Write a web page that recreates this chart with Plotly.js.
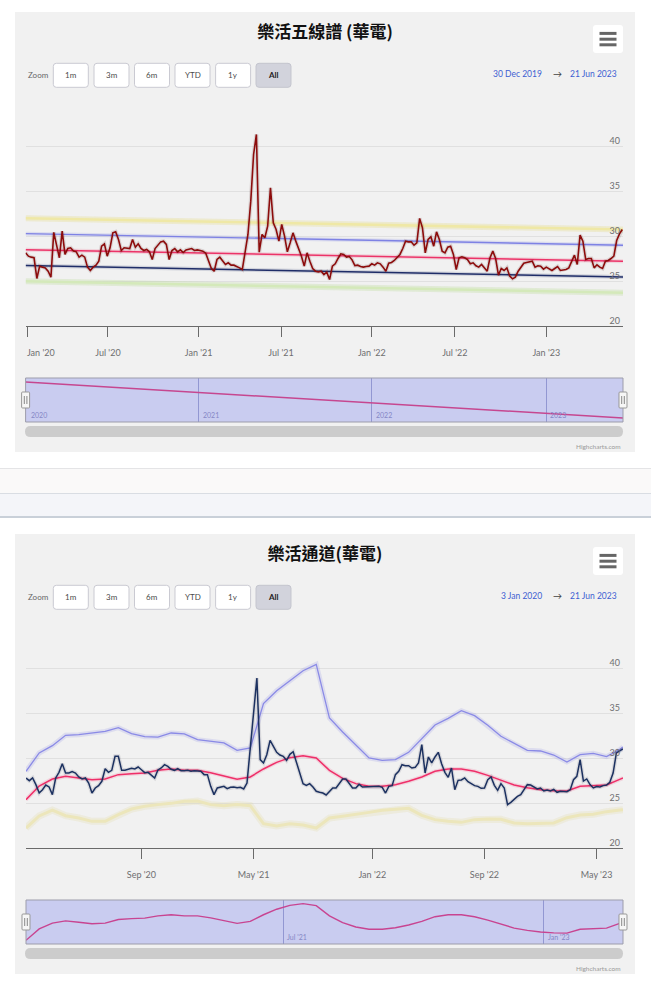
<!DOCTYPE html>
<html>
<head>
<meta charset="utf-8">
<script src="https://cdn.plot.ly/plotly-3.0.1.min.js"></script>
<style>
  html, body { margin: 0; padding: 0; background: #ffffff; }
  body { width: 651px; height: 993px; position: relative; overflow: hidden; }
  .panel { position: absolute; left: 15px; width: 620px; height: 440px; }
  #chart1 { top: 12px; }
  #chart2 { top: 534px; }
  .bar1 { position: absolute; left: 0; top: 468px; width: 651px; height: 24px; background: #faf9f9; border-top: 1px solid #e4e4e6; }
  .bar2 { position: absolute; left: 0; top: 493px; width: 651px; height: 22px; background: #f4f5f9; border-top: 1px solid #d9dde3; border-bottom: 2px solid #c9d0d9; }
</style>
</head>
<body>
<div id="chart1" class="panel"></div>
<div class="bar1"></div>
<div class="bar2"></div>
<div id="chart2" class="panel"></div>
<script>
// ================= DATA =================
// Shared UI labels
const rangeButtons = ['1m', '3m', '6m', 'YTD', '1y', 'All'];
const selectedButton = 'All';
const yTickVals = [20, 25, 30, 35, 40, 45];
const yTickText = ['20', '25', '30', '35', '40', ''];

// ---- Chart 1: 樂活五線譜 (華電) — daily closes on an ordinal (trading-day) axis ----
const title1 = '樂活五線譜 (華電)';
const dateFrom1 = '30 Dec 2019';
const dateTo1 = '21 Jun 2023';
const dayStep1 = 4;          // price sampled every 4 trading days
const lastDay1 = 849;        // trading-day index of 21 Jun 2023
const price1 = [
  28.13, 27.76, 27.65, 27.58, 25.28, 26.65, 26.54, 26.46, 26.09, 25.43,
  30.40, 29.06, 27.58, 30.54, 27.95, 28.61, 28.69, 28.32, 28.24, 27.65,
  27.87, 27.65, 26.54, 26.17, 26.54, 26.76, 27.20, 28.87, 29.13, 27.76,
  28.69, 30.35, 30.46, 29.61, 28.39, 28.69, 28.61, 28.61, 29.61, 28.76,
  29.13, 28.61, 28.39, 28.50, 28.24, 27.39, 28.61, 28.98, 29.35, 29.43,
  29.06, 27.39, 28.39, 28.61, 28.24, 28.46, 28.17, 28.46, 28.54, 28.61,
  28.39, 28.46, 28.39, 28.32, 28.09, 27.28, 26.39, 26.09, 27.39, 27.65,
  27.28,
  26.83, 27.02, 26.76, 26.76, 26.65, 26.46, 26.28, 28.13, 30.17, 33.87,
  39.06, 41.28, 28.20, 30.17, 29.80, 31.09, 35.35, 31.46, 30.72, 29.43,
  31.28, 29.98, 28.24, 29.24, 30.35, 29.43, 28.69, 27.76, 26.65, 28.13,
  27.20, 26.39, 26.09, 26.02, 26.09, 25.72, 25.98, 25.17, 26.65, 26.91,
  27.50, 28.02, 27.95, 27.65, 27.72, 27.35, 26.72, 26.76, 26.61, 26.54,
  26.61, 26.65, 26.91, 26.76, 27.02, 26.91, 26.54, 26.09, 26.98, 27.06,
  27.28, 27.58, 27.95, 28.61, 29.43, 29.35, 29.35, 28.98, 29.24, 31.95,
  30.91, 28.13,
  29.61, 29.91, 28.87, 30.46, 29.61, 28.32, 28.13, 28.76, 28.87, 27.95,
  26.28, 27.58, 27.69, 27.58, 27.39, 26.91, 27.02, 26.69, 26.54, 26.83,
  26.46, 26.09, 27.58, 28.32, 27.50, 25.65, 26.39, 26.17, 26.46, 25.54,
  25.24, 25.43, 26.09, 26.54, 26.98, 27.06, 27.13, 27.20, 26.54, 26.69,
  26.65, 26.32, 26.54, 26.32, 26.17, 26.39, 26.61, 26.17, 26.24, 26.28,
  26.46, 27.13, 27.87, 26.83, 30.09, 29.43, 27.39, 27.50, 27.50, 26.46,
  26.80, 26.54, 26.39, 27.20, 27.28, 27.50, 27.76, 29.50, 30.24, 30.72
];
// Five-line channel: values at first and last trading day
const trendDays1 = [0, 849];
const plus2sd1  = [31.98, 30.72];
const plus1sd1  = [30.26, 28.98];
const trend1    = [28.48, 27.20];
const minus1sd1 = [26.72, 25.44];
const minus2sd1 = [24.96, 23.70];
const tickDays1 = [2, 117, 246, 363, 492, 610, 740];
const tickText1 = ["Jan '20", "Jul '20", "Jan '21", "Jul '21", "Jan '22", "Jul '22", "Jan '23"];
const navDays1 = [2, 246, 492, 740];
const navText1 = ['2020', '2021', '2022', '2023'];

// ---- Chart 2: 樂活通道(華電) — weekly on an ordinal (week) axis ----
const title2 = '樂活通道(華電)';
const dateFrom2 = '3 Jan 2020';
const dateTo2 = '21 Jun 2023';
const lastWeek2 = 181;
const price2 = [
  27.78, 27.48, 27.78, 27.04, 26.11, 26.48, 27.00, 26.78, 25.93, 27.78,
  28.41, 29.37, 28.33, 28.33, 28.48, 28.33, 27.89, 27.67, 27.78, 27.22,
  26.11, 26.67, 26.93, 27.41, 28.81, 28.41, 28.63, 30.19, 30.19, 28.63,
  28.63, 28.70, 28.85, 28.78, 29.00, 28.70, 28.37, 28.41, 28.04, 27.78,
  28.67, 28.89, 29.26, 29.07, 28.74, 28.63, 28.81, 28.59, 28.59, 28.63,
  28.52, 28.59, 28.56, 28.52, 28.15, 28.15, 26.85, 25.93, 26.67, 26.74,
  26.85, 26.59, 26.74, 26.78, 26.70, 26.74, 26.56, 27.22, 30.93, 35.00,
  38.89, 29.82, 29.45, 30.37, 31.96, 31.30, 30.63, 30.33, 30.19, 29.74,
  30.41, 30.70, 29.45, 28.41, 27.15, 26.96, 27.15, 26.78, 26.30, 26.19,
  26.11, 25.89, 26.30, 26.67, 26.67, 27.11, 27.67, 27.67, 27.15, 26.67,
  26.67, 27.07, 26.78, 26.78, 26.85, 26.78, 26.78, 26.85, 26.74, 26.11,
  26.85, 26.93, 28.15, 28.52, 29.26, 29.15, 29.15, 28.89, 28.96, 29.45,
  31.48, 28.33, 30.11, 29.45, 30.11, 30.63, 29.37, 28.41, 27.85, 28.89,
  26.48, 27.52, 27.56, 27.78, 27.37, 27.15, 26.93, 26.85, 26.63, 26.67,
  27.59, 27.89, 26.96, 26.41, 27.15, 26.67, 24.82, 25.07, 25.37, 25.74,
  25.93, 26.48, 27.04, 27.00, 26.78, 26.56, 26.67, 26.33, 26.44, 26.33,
  26.52, 26.19, 26.30, 26.26, 26.26, 26.48, 27.59, 27.96, 29.81, 27.44,
  27.67, 27.04, 26.67, 26.82, 26.78, 26.93, 27.00, 27.30, 28.33, 30.56,
  30.78, 31.00
];
const bandWeeks2 = [0, 4, 8, 12, 16, 20, 24, 28, 32, 36, 40, 44, 48, 52, 56, 60, 64, 68, 72, 76,
  80, 84, 88, 92, 96, 100, 104, 108, 112, 116, 120, 124, 128, 132, 136, 140, 144, 148, 152, 156,
  160, 164, 168, 172, 176, 180, 181];
const upper2 = [28.52, 30.56, 31.37, 32.52, 32.59, 32.78, 32.96, 33.37, 32.70, 32.37,
  32.33, 32.78, 32.67, 32.04, 31.85, 31.67, 30.85, 31.11, 36.04, 37.48,
  38.59, 39.70, 40.40, 34.44, 32.89, 31.44, 30.00, 29.74, 29.82, 30.63,
  32.15, 33.67, 34.41, 35.26, 34.70, 33.63, 32.41, 31.59, 30.85, 30.78,
  30.33, 29.56, 30.37, 30.52, 30.15, 30.93, 31.22];
const ma2 = [25.37, 26.89, 27.67, 27.96, 27.78, 27.59, 27.67, 28.15, 28.26, 28.33,
  28.63, 28.78, 28.63, 28.63, 28.37, 28.00, 27.63, 27.89, 28.78, 29.52,
  30.04, 30.26, 30.00, 28.63, 27.74, 27.15, 26.85, 26.85, 27.04, 27.41,
  27.89, 28.52, 28.78, 28.78, 28.52, 28.07, 27.56, 27.00, 26.70, 26.48,
  26.37, 26.33, 26.85, 26.89, 27.00, 27.63, 27.78];
const lower2 = [22.22, 23.56, 24.22, 23.59, 23.33, 22.96, 22.96, 23.70, 24.33, 24.63,
  24.82, 24.96, 25.19, 25.22, 24.82, 24.70, 24.82, 24.70, 22.70, 22.44,
  22.70, 22.56, 22.22, 23.33, 23.52, 23.70, 23.96, 24.19, 24.33, 24.41,
  23.63, 23.15, 22.96, 22.85, 23.15, 23.22, 23.19, 22.78, 22.70, 22.74,
  22.78, 23.37, 23.67, 23.74, 24.04, 24.22, 24.26];
const tickWeeks2 = [35, 69, 105, 139, 173];
const tickText2 = ["Sep '20", "May '21", "Jan '22", "Sep '22", "May '23"];
const navWeeks2 = [78, 157];
const navText2 = ["Jul '21", "Jan '23"];

// ================= RENDERING =================
const W = 620, H = 440;
const FONT = 'Lato, "Open Sans", sans-serif';
const CJK = '"Noto Sans CJK TC", "Noto Sans CJK SC", sans-serif';
const PX = x => x / W;
const PY = y => 1 - y / H;

function rrPath(x0, y0, x1, y1, r) {
  const p = (x, y) => PX(x).toFixed(5) + ',' + PY(y).toFixed(5);
  return 'M' + p(x0 + r, y0) + 'L' + p(x1 - r, y0) + 'Q' + p(x1, y0) + ' ' + p(x1, y0 + r) +
    'L' + p(x1, y1 - r) + 'Q' + p(x1, y1) + ' ' + p(x1 - r, y1) +
    'L' + p(x0 + r, y1) + 'Q' + p(x0, y1) + ' ' + p(x0, y1 - r) +
    'L' + p(x0, y0 + r) + 'Q' + p(x0, y0) + ' ' + p(x0 + r, y0) + 'Z';
}
function padRange(vals, f) {
  const mn = Math.min(...vals), mx = Math.max(...vals), p = (mx - mn) * f;
  return [mn - p, mx + p];
}
function line(x, y, color, width, xa, ya) {
  return { type: 'scatter', mode: 'lines', x: x, y: y, xaxis: xa || 'x', yaxis: ya || 'y',
    line: { color: color, width: width }, hoverinfo: 'skip', showlegend: false };
}

function buildLayout(o) {
  const plotL = o.plotL, plotR = 608;
  const dom = [PX(plotL), PX(plotR)];
  const shapes = [], ann = [];
  // range selector buttons
  const bx = [38.3, 79, 119.5, 160, 200.6, 241];
  rangeButtons.forEach((lbl, i) => {
    const sel = lbl === selectedButton;
    shapes.push({ type: 'path', xref: 'paper', yref: 'paper', layer: 'above',
      path: rrPath(bx[i], 51.3, bx[i] + 35, 75.3, 3),
      fillcolor: sel ? '#d2d3dc' : '#ffffff', line: { color: sel ? '#c4c5ce' : '#cacad2', width: 1 } });
    ann.push({ xref: 'paper', yref: 'paper', x: PX(bx[i] + 17.5), y: PY(63.3), showarrow: false,
      xanchor: 'center', yanchor: 'middle', text: sel ? '<b>' + lbl + '</b>' : lbl,
      font: { family: FONT, size: 8, color: sel ? '#222222' : '#4a4a4a' } });
  });
  ann.push({ xref: 'paper', yref: 'paper', x: PX(11), y: PY(62.5), showarrow: false, xanchor: 'left', yanchor: 'middle',
    text: 'Zoom', font: { family: FONT, size: 8, color: '#666666' } });
  // date range
  ann.push({ xref: 'paper', yref: 'paper', x: PX(529), y: PY(62), showarrow: false, xanchor: 'right', yanchor: 'middle',
    text: o.dateFrom, font: { family: FONT, size: 8.5, color: '#3d5fd1' } });
  ann.push({ xref: 'paper', yref: 'paper', x: PX(542.5), y: PY(61.5), showarrow: false, xanchor: 'center', yanchor: 'middle',
    text: '→', font: { family: FONT, size: 9, color: '#444444' } });
  ann.push({ xref: 'paper', yref: 'paper', x: PX(604), y: PY(62), showarrow: false, xanchor: 'right', yanchor: 'middle',
    text: o.dateTo, font: { family: FONT, size: 8.5, color: '#3d5fd1' } });
  // context menu button
  shapes.push({ type: 'path', xref: 'paper', yref: 'paper', layer: 'above', path: rrPath(578, 13, 608, 41, 3),
    fillcolor: '#ffffff', line: { width: 0 } });
  [21.4, 27.2, 32.8].forEach(yy => shapes.push({ type: 'line', xref: 'paper', yref: 'paper', layer: 'above',
    x0: PX(584.5), x1: PX(601.5), y0: PY(yy), y1: PY(yy), line: { color: '#666666', width: 3 } }));
  // navigator mask + outline
  shapes.push({ type: 'rect', xref: 'paper', yref: 'paper', layer: 'above',
    x0: PX(plotL), x1: PX(plotR), y0: PY(410), y1: PY(366),
    fillcolor: 'rgba(110,120,240,0.30)', line: { color: '#9d9dab', width: 1 } });
  // navigator handles
  [plotL, plotR].forEach(hx => {
    shapes.push({ type: 'path', xref: 'paper', yref: 'paper', layer: 'above', path: rrPath(hx - 4, 380, hx + 4, 396, 1),
      fillcolor: '#f6f6f6', line: { color: '#999999', width: 1 } });
    [-1.3, 1.3].forEach(dx => shapes.push({ type: 'line', xref: 'paper', yref: 'paper', layer: 'above',
      x0: PX(hx + dx), x1: PX(hx + dx), y0: PY(384), y1: PY(392), line: { color: '#888888', width: 1 } }));
  });
  // scrollbar
  shapes.push({ type: 'path', xref: 'paper', yref: 'paper', layer: 'above', path: rrPath(10, 414, 608, 425, 5.5),
    fillcolor: '#cccccc', line: { width: 0 } });
  // navigator labels
  o.navTicks.forEach((t, i) => ann.push({ xref: 'x2', yref: 'paper', x: t, y: PY(403), showarrow: false,
    xanchor: 'left', yanchor: 'middle', xshift: 2, text: o.navText[i],
    font: { family: FONT, size: 7, color: '#8587c6' } }));
  // left-aligned first x label (sits to the right of its tick, as in the original)
  if (o.firstLabel) {
    ann.push({ xref: 'x', yref: 'paper', x: o.firstLabel.x, y: PY(340), showarrow: false,
      xanchor: 'left', yanchor: 'middle', xshift: -2, text: o.firstLabel.text,
      font: { family: FONT, size: 9, color: '#6e6e70' } });
  }
  ann.push({ xref: 'paper', yref: 'paper', x: PX(608), y: PY(434), showarrow: false, xanchor: 'right', yanchor: 'middle',
    text: 'Highcharts.com', font: { family: FONT, size: 6.5, color: '#999999' } });

  return {
    width: W, height: H, margin: { l: 0, r: 0, t: 0, b: 0, pad: 0 },
    paper_bgcolor: '#f1f1f1', plot_bgcolor: 'rgba(0,0,0,0)', showlegend: false,
    font: { family: FONT, color: '#6e6e70' },
    title: { text: '<b>' + o.title + '</b>', font: { family: CJK, size: 17, color: '#111111' },
      x: 0.5, xanchor: 'center', xref: 'container', y: PY(20), yanchor: 'middle', yref: 'container' },
    xaxis: { domain: dom, range: o.xRange, anchor: 'y', showgrid: false, zeroline: false,
      showline: true, linecolor: '#6a6a6a', linewidth: 1, ticks: 'outside', ticklen: 10, tickwidth: 1,
      tickcolor: '#6a6a6a', tickmode: 'array', tickvals: o.tickVals, ticktext: o.tickText,
      tickfont: { size: 9, color: '#6e6e70', family: FONT }, ticklabelstandoff: 8 },
    yaxis: { domain: [PY(314), PY(89)], range: [20, 45], anchor: 'x', side: 'right',
      tickmode: 'array', tickvals: yTickVals, ticktext: yTickText, ticklabelposition: 'inside', ticks: '',
      showgrid: true, gridcolor: '#e0e0e0', gridwidth: 1, zeroline: false, showline: false,
      tickfont: { size: 9, color: '#6e6e70', family: FONT }, ticklabelshift: -5, ticklabeloverflow: 'allow' },
    xaxis2: { domain: dom, range: o.xRange, anchor: 'y2', showline: false, zeroline: false,
      showticklabels: false, ticks: '', tickmode: 'array', tickvals: o.navGrid,
      showgrid: true, gridcolor: '#a3a5c6', gridwidth: 1 },
    yaxis2: { domain: [PY(410), PY(366)], range: o.navRange, anchor: 'x2', visible: false },
    shapes: shapes, annotations: ann
  };
}

// ---- Chart 1 ----
const x1 = price1.map((_, i) => i * dayStep1);
const tickLabels1 = tickText1.map((t, i) => i === 0 ? '' : t);
const traces1 = [
  line(trendDays1, plus2sd1, 'rgba(228,216,120,0.28)', 6),
  line(trendDays1, plus2sd1, '#efe8a6', 2.5),
  line(trendDays1, minus2sd1, 'rgba(180,214,140,0.28)', 6),
  line(trendDays1, minus2sd1, '#d4e9ba', 2.5),
  line(trendDays1, plus1sd1, 'rgba(120,125,230,0.18)', 4),
  line(trendDays1, plus1sd1, '#7e82e4', 1.4),
  line(trendDays1, trend1, 'rgba(236,51,104,0.15)', 4),
  line(trendDays1, trend1, '#ec3368', 1.5),
  line(trendDays1, minus1sd1, 'rgba(31,45,104,0.15)', 4),
  line(trendDays1, minus1sd1, '#1f2d68', 1.5),
  line(x1, price1, 'rgba(60,0,0,0.12)', 4),
  line(x1, price1, '#8c0c0c', 1.6),
  line(trendDays1, trend1, '#ec3368', 1.5, 'x2', 'y2')
];
const layout1 = buildLayout({
  title: title1, dateFrom: dateFrom1, dateTo: dateTo1, plotL: 10.6,
  xRange: [0, lastDay1], tickVals: tickDays1, tickText: tickLabels1,
  firstLabel: { x: tickDays1[0], text: tickText1[0] },
  navGrid: navDays1.slice(1), navTicks: navDays1, navText: navText1,
  navRange: padRange(trend1, 0.11)
});
Plotly.newPlot('chart1', traces1, layout1, { staticPlot: true, displayModeBar: false });

// ---- Chart 2 ----
const x2 = price2.map((_, i) => i);
const traces2 = [
  line(bandWeeks2, lower2, 'rgba(225,214,150,0.22)', 7),
  line(bandWeeks2, lower2, '#ece6bb', 3),
  line(bandWeeks2, upper2, 'rgba(138,138,230,0.20)', 5),
  line(bandWeeks2, upper2, '#8a8ae6', 1.3),
  line(bandWeeks2, ma2, 'rgba(239,47,105,0.15)', 4),
  line(bandWeeks2, ma2, '#ef2f69', 1.5),
  line(x2, price2, 'rgba(0,0,40,0.10)', 4),
  line(x2, price2, '#1c3160', 1.5),
  line(bandWeeks2, ma2, '#ef2f69', 1.4, 'x2', 'y2')
];
const layout2 = buildLayout({
  title: title2, dateFrom: dateFrom2, dateTo: dateTo2, plotL: 11,
  xRange: [0, lastWeek2], tickVals: tickWeeks2, tickText: tickText2,
  navGrid: navWeeks2, navTicks: navWeeks2, navText: navText2,
  navRange: padRange(ma2, 0.10)
});
Plotly.newPlot('chart2', traces2, layout2, { staticPlot: true, displayModeBar: false });
</script>
</body>
</html>
